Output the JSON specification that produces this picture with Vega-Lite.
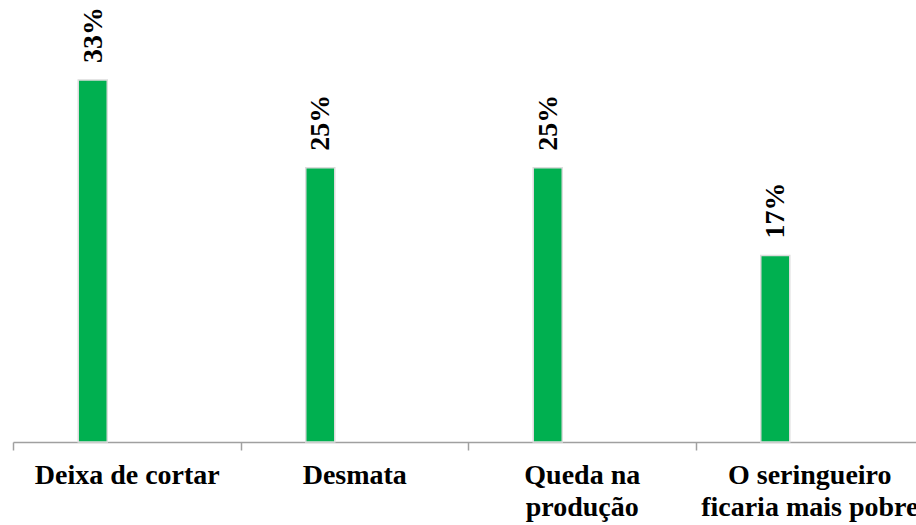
{
  "$schema": "https://vega.github.io/schema/vega-lite/v6.json",
  "autosize": "none",
  "width": 903,
  "height": 384,
  "padding": {"left": 13, "top": 58, "right": 0, "bottom": 83},
  "background": "white",
  "config": {"view": {"stroke": null}},
  "data": {"values": [
    {"cat": "Deixa de cortar", "pct": 0.33},
    {"cat": "Desmata", "pct": 0.25},
    {"cat": "Queda na|produção", "pct": 0.25},
    {"cat": "O seringueiro|ficaria mais pobre", "pct": 0.17}
  ]},
  "encoding": {
    "x": {
      "field": "cat", "type": "nominal", "sort": null,
      "scale": {"type": "band", "range": [0, 910], "paddingInner": 0, "paddingOuter": 0},
      "axis": {
        "title": null, "labelAngle": 0, "labelFont": "Liberation Serif", "labelFontSize": 28,
        "labelFontWeight": "bold", "labelColor": "black", "labelPadding": 11,
        "labelLineHeight": 32, "labelBaseline": "top", "labelLimit": 0,
        "labelExpr": "datum.value ? split(datum.value, '|') : ''", "labelBound": false, "labelOverlap": false,
        "domainColor": "#a0a0a0", "domainWidth": 1.5, "tickColor": "#a0a0a0", "tickWidth": 1.5,
        "tickSize": 8, "tickBand": "extent", "grid": false
      }
    },
    "y": {"field": "pct", "type": "quantitative", "scale": {"domain": [0, 0.35], "nice": false}, "axis": null}
  },
  "layer": [
    {"mark": {"type": "bar", "width": 29, "xOffset": -34, "color": "#00B050", "stroke": "#dcdcdc", "strokeWidth": 1.5}},
    {
      "mark": {"type": "text", "angle": 270, "align": "left", "baseline": "middle", "dx": 17, "xOffset": -33,
               "font": "Liberation Serif", "fontSize": 28, "fontWeight": "bold", "color": "black"},
      "encoding": {"text": {"field": "pct", "type": "quantitative", "format": ".0%"}}
    }
  ]
}
